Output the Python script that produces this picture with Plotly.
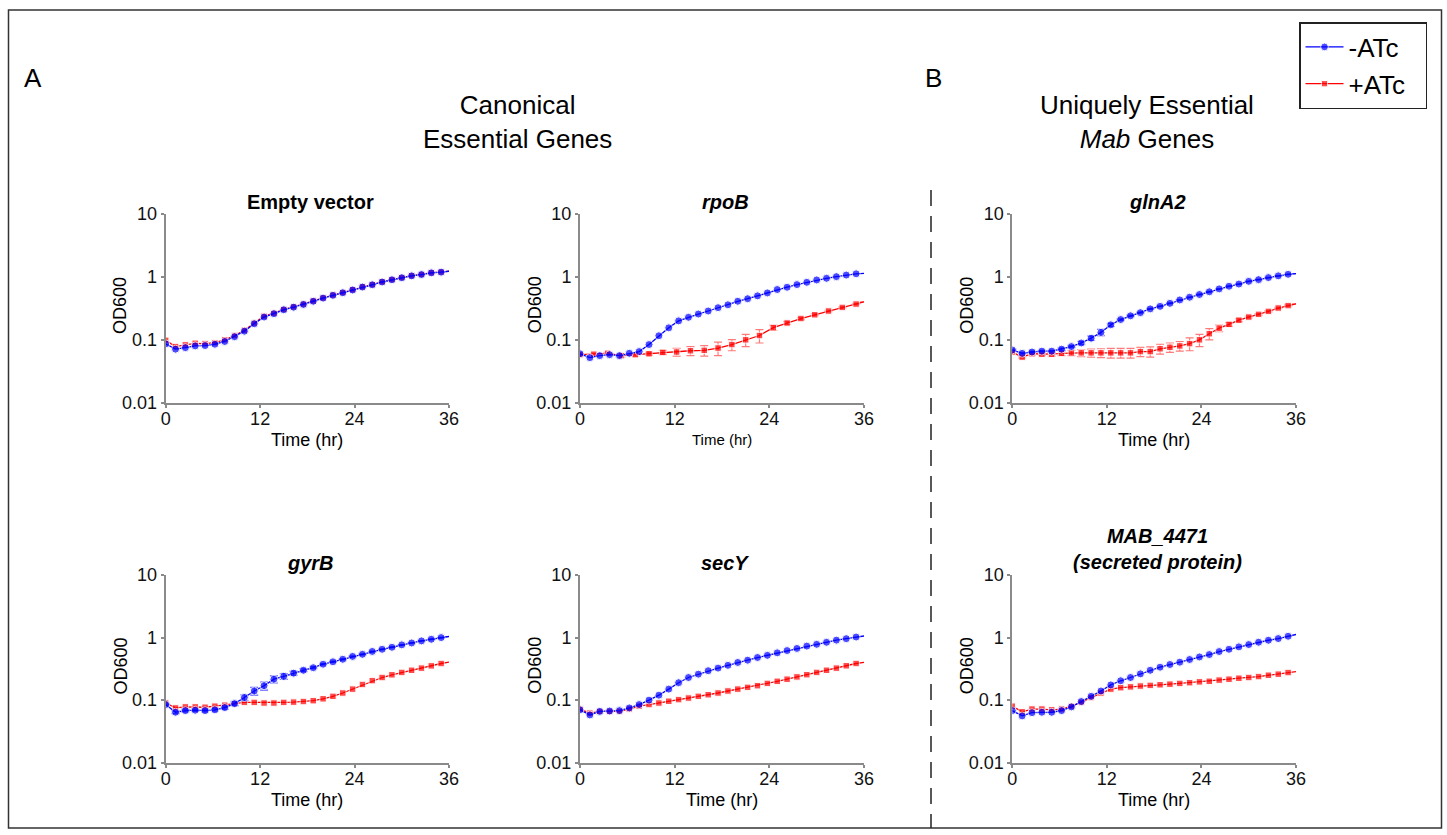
import plotly.graph_objects as go

# ---------------- data ----------------
t_std = [0, 1.25, 2.5, 3.75, 5, 6.25, 7.5, 8.75, 10, 11.25, 12.5, 13.75, 15, 16.25,
         17.5, 18.75, 20, 21.25, 22.5, 23.75, 25, 26.25, 27.5, 28.75, 30, 31.25,
         32.5, 33.75, 35, 36]
t_rpob_red = [0, 1.75, 3.5, 5.25, 7, 8.75, 10.5, 12.25, 14, 15.75, 17.5, 19.25, 21,
              22.75, 24.5, 26.25, 28, 29.75, 31.5, 33.25, 35, 36]

ev_blue = [0.086, 0.071, 0.075, 0.080, 0.081, 0.085, 0.094, 0.112, 0.137, 0.180, 0.230,
           0.260, 0.300, 0.330, 0.365, 0.410, 0.460, 0.510, 0.560, 0.620, 0.690, 0.750,
           0.830, 0.900, 0.970, 1.040, 1.090, 1.160, 1.190, 1.230]
ev_red = [0.098, 0.078, 0.083, 0.088, 0.087, 0.090, 0.100, 0.117, 0.142, 0.185, 0.238,
          0.265, 0.305, 0.335, 0.370, 0.415, 0.465, 0.515, 0.565, 0.625, 0.695, 0.755,
          0.835, 0.905, 0.975, 1.045, 1.095, 1.165, 1.195, 1.235]

rpob_blue = [0.060, 0.052, 0.056, 0.058, 0.056, 0.061, 0.065, 0.084, 0.116, 0.155, 0.200,
             0.228, 0.257, 0.287, 0.324, 0.360, 0.410, 0.450, 0.500, 0.556, 0.630, 0.685,
             0.755, 0.820, 0.895, 0.950, 1.010, 1.070, 1.120, 1.140]
rpob_red = [0.058, 0.059, 0.061, 0.056, 0.058, 0.060, 0.063, 0.064, 0.067, 0.068, 0.074,
            0.084, 0.100, 0.117, 0.156, 0.185, 0.218, 0.250, 0.287, 0.327, 0.370, 0.400]
rpob_red_err = [0.002, 0.002, 0.002, 0.003, 0.003, 0.003, 0.005, 0.009, 0.011, 0.013, 0.018,
                0.017, 0.022, 0.028, 0.015, 0.010, 0.008, 0.008, 0.008, 0.008, 0.008, 0]

glna_blue = [0.069, 0.061, 0.064, 0.066, 0.066, 0.071, 0.078, 0.089, 0.106, 0.131, 0.173,
             0.210, 0.241, 0.270, 0.310, 0.340, 0.380, 0.430, 0.475, 0.525, 0.580, 0.645,
             0.710, 0.770, 0.850, 0.905, 0.975, 1.040, 1.100, 1.130]
glna_blue_err = [0.002, 0.002, 0.002, 0.002, 0.002, 0.003, 0.003, 0.005, 0.008, 0.015, 0.010,
                 0.006, 0.005, 0.005, 0.005, 0.005, 0.006, 0.006, 0.006, 0.006, 0.008, 0.008,
                 0.008, 0.008, 0.010, 0.010, 0.010, 0.010, 0.010, 0]
glna_red = [0.064, 0.053, 0.060, 0.059, 0.059, 0.061, 0.062, 0.062, 0.062, 0.062, 0.062,
            0.062, 0.062, 0.065, 0.065, 0.072, 0.076, 0.080, 0.087, 0.100, 0.125, 0.153,
            0.176, 0.205, 0.230, 0.254, 0.283, 0.320, 0.350, 0.373]
glna_red_err = [0.002, 0.002, 0.003, 0.003, 0.004, 0.005, 0.006, 0.008, 0.009, 0.010, 0.011,
                0.011, 0.011, 0.011, 0.012, 0.013, 0.013, 0.014, 0.020, 0.022, 0.025, 0.018,
                0.012, 0.010, 0.008, 0.008, 0.008, 0.008, 0.008, 0]

gyrb_blue = [0.085, 0.064, 0.068, 0.069, 0.068, 0.070, 0.076, 0.088, 0.110, 0.140, 0.170,
             0.216, 0.240, 0.270, 0.300, 0.330, 0.375, 0.410, 0.450, 0.500, 0.540, 0.600,
             0.650, 0.700, 0.765, 0.820, 0.885, 0.940, 1.000, 1.040]
gyrb_blue_err = [0.002, 0.003, 0.003, 0.003, 0.003, 0.003, 0.004, 0.006, 0.012, 0.020, 0.025,
                 0.028, 0.025, 0.020, 0.015, 0.012, 0.010, 0.010, 0.010, 0.010, 0.010, 0.010,
                 0.010, 0.010, 0.010, 0.010, 0.010, 0.010, 0.010, 0]
gyrb_red = [0.090, 0.075, 0.078, 0.078, 0.077, 0.080, 0.083, 0.088, 0.092, 0.092, 0.090,
            0.090, 0.092, 0.093, 0.095, 0.098, 0.105, 0.115, 0.130, 0.150, 0.178, 0.205,
            0.230, 0.254, 0.277, 0.300, 0.325, 0.353, 0.385, 0.405]

secy_blue = [0.070, 0.058, 0.066, 0.067, 0.068, 0.075, 0.085, 0.100, 0.120, 0.150, 0.190,
             0.230, 0.260, 0.295, 0.325, 0.360, 0.400, 0.435, 0.480, 0.520, 0.570, 0.620,
             0.670, 0.730, 0.780, 0.840, 0.910, 0.960, 1.020, 1.060]
secy_red = [0.072, 0.062, 0.066, 0.066, 0.066, 0.072, 0.080, 0.085, 0.090, 0.096, 0.102,
            0.108, 0.115, 0.122, 0.130, 0.140, 0.150, 0.160, 0.170, 0.185, 0.200, 0.216,
            0.235, 0.255, 0.277, 0.300, 0.325, 0.354, 0.385, 0.400]

mab_blue = [0.068, 0.056, 0.063, 0.064, 0.064, 0.068, 0.078, 0.095, 0.115, 0.140, 0.175,
            0.204, 0.230, 0.263, 0.300, 0.336, 0.371, 0.404, 0.446, 0.490, 0.535, 0.598,
            0.650, 0.710, 0.773, 0.842, 0.906, 0.964, 1.050, 1.120]
mab_red = [0.080, 0.065, 0.072, 0.072, 0.070, 0.072, 0.080, 0.092, 0.110, 0.130, 0.150,
           0.158, 0.163, 0.168, 0.172, 0.176, 0.180, 0.185, 0.190, 0.196, 0.200, 0.209,
           0.216, 0.224, 0.230, 0.238, 0.250, 0.260, 0.276, 0.285]

x_ticks = [0, 12, 24, 36]
y_ticks = [0.01, 0.1, 1, 10]
y_tick_text = ["0.01", "0.1", "1", "10"]
series_names = ["-ATc", "+ATc"]

# ---------------- layout helpers ----------------
W, H = 1447, 835
FONT = "Arial, Liberation Sans, sans-serif"
BLUE, RED = "#0000ff", "#ff0000"
AXC = "#8a8a8a"
PAD = "\u00a0\u00a0"  # keeps the legend box as wide as the original


def xp(v):
    return v / W


def yp(v):
    return 1 - v / H


panels = [
    dict(title="<b>Empty vector</b>", x0=165.7, x1=449.0, top=214.0, bot=402.7,
         yb=ev_blue, eb=None, tr=t_std, yr=ev_red, er=None, tsize=18),
    dict(title="<b><i>rpoB</i></b>", x0=580.0, x1=864.0, top=214.0, bot=402.7,
         yb=rpob_blue, eb=None, tr=t_rpob_red, yr=rpob_red, er=rpob_red_err, tsize=15),
    dict(title="<b><i>glnA2</i></b>", x0=1012.3, x1=1296.0, top=214.0, bot=402.7,
         yb=glna_blue, eb=glna_blue_err, tr=t_std, yr=glna_red, er=glna_red_err, tsize=18),
    dict(title="<b><i>gyrB</i></b>", x0=165.7, x1=449.0, top=575.0, bot=762.7,
         yb=gyrb_blue, eb=gyrb_blue_err, tr=t_std, yr=gyrb_red, er=None, tsize=18),
    dict(title="<b><i>secY</i></b>", x0=580.0, x1=864.0, top=575.0, bot=762.7,
         yb=secy_blue, eb=None, tr=t_std, yr=secy_red, er=None, tsize=18),
    dict(title="<b><i>MAB_4471<br>(secreted protein)</i></b>", x0=1012.3, x1=1296.0,
         top=575.0, bot=762.7,
         yb=mab_blue, eb=None, tr=t_std, yr=mab_red, er=None, tsize=18),
]

fig = go.Figure()
annotations = []
layout_axes = {}

for i, p in enumerate(panels):
    n = i + 1
    xa = "x" if n == 1 else f"x{n}"
    ya = "y" if n == 1 else f"y{n}"
    xkey = "xaxis" if n == 1 else f"xaxis{n}"
    ykey = "yaxis" if n == 1 else f"yaxis{n}"

    red_sizes = [6.5] * (len(p["tr"]) - 1) + [0]
    blue_sizes = [8] * (len(t_std) - 1) + [0]

    red_err = None
    if p["er"] is not None:
        red_err = dict(type="data", array=p["er"], visible=True, color="#ff7a7a",
                       thickness=1.2, width=4)
    blue_err = None
    if p["eb"] is not None:
        blue_err = dict(type="data", array=p["eb"], visible=True, color="#5a5aff",
                        thickness=1.2, width=4)

    fig.add_trace(go.Scatter(
        x=p["tr"], y=p["yr"], mode="lines+markers", name=series_names[1] + PAD,
        line=dict(color=RED, width=1.3),
        marker=dict(symbol="square", size=red_sizes, color=RED),
        error_y=red_err, xaxis=xa, yaxis=ya,
        legendgroup="red", showlegend=(n == 1), legendrank=2))
    fig.add_trace(go.Scatter(
        x=t_std, y=p["yb"], mode="lines+markers", name=series_names[0] + PAD,
        line=dict(color=BLUE, width=1.3),
        marker=dict(symbol="circle", size=blue_sizes, color=BLUE),
        error_y=blue_err, xaxis=xa, yaxis=ya,
        legendgroup="blue", showlegend=(n == 1), legendrank=1))

    common = dict(showline=True, linecolor=AXC, linewidth=2, ticks="outside",
                  ticklen=3, tickwidth=1.5, tickcolor=AXC, showgrid=False,
                  zeroline=False, automargin=False,
                  tickfont=dict(family=FONT, size=18, color="#111"))
    layout_axes[xkey] = dict(domain=[xp(p["x0"]), xp(p["x1"])], anchor=ya,
                             range=[0, 36], tickvals=x_ticks, ticklabelstandoff=-4,
                             **common)
    layout_axes[ykey] = dict(domain=[yp(p["bot"]), yp(p["top"])], anchor=xa,
                             type="log", range=[-2, 1], tickvals=y_ticks,
                             ticktext=y_tick_text, **common)

    cx = (p["x0"] + p["x1"]) / 2
    title_y = p["top"] - 12 if "<br>" not in p["title"] else p["top"] - 26
    annotations.append(dict(text=p["title"], x=xp(cx + 3), y=yp(title_y),
                            xref="paper", yref="paper", showarrow=False,
                            xanchor="center", yanchor="middle",
                            font=dict(family=FONT, size=20, color="#000")))
    annotations.append(dict(text="Time (hr)", x=xp(cx), y=yp(p["bot"] + 37),
                            xref="paper", yref="paper", showarrow=False,
                            xanchor="center", yanchor="middle",
                            font=dict(family=FONT, size=p["tsize"], color="#000")))
    annotations.append(dict(text="OD600", x=xp(p["x0"] - 45), y=yp((p["top"] + p["bot"]) / 2 - 3),
                            xref="paper", yref="paper", showarrow=False, textangle=-90,
                            xanchor="center", yanchor="middle",
                            font=dict(family=FONT, size=18, color="#000")))

# headers and panel letters
annotations += [
    dict(text="A", x=xp(33), y=yp(78), xref="paper", yref="paper", showarrow=False,
         xanchor="center", yanchor="middle", font=dict(family=FONT, size=26, color="#000")),
    dict(text="B", x=xp(933), y=yp(78), xref="paper", yref="paper", showarrow=False,
         xanchor="center", yanchor="middle", font=dict(family=FONT, size=26, color="#000")),
    dict(text="Canonical<br>Essential Genes", x=xp(517), y=yp(122), xref="paper",
         yref="paper", showarrow=False, xanchor="center", yanchor="middle",
         font=dict(family=FONT, size=26, color="#000")),
    dict(text="Uniquely Essential<br><i>Mab</i> Genes", x=xp(1147), y=yp(122), xref="paper",
         yref="paper", showarrow=False, xanchor="center", yanchor="middle",
         font=dict(family=FONT, size=26, color="#000")),
]

shapes = [
    dict(type="rect", xref="paper", yref="paper", x0=xp(8.5), x1=xp(1441.5),
         y0=yp(828), y1=yp(10), line=dict(color="#333", width=1.5)),
    dict(type="line", xref="paper", yref="paper", x0=xp(931), x1=xp(931),
         y0=yp(190), y1=yp(828), line=dict(color="#222", width=1.5, dash="16px,10px")),
]

fig.update_layout(
    autosize=True, margin=dict(l=0, r=0, t=0, b=0, pad=0),
    paper_bgcolor="white", plot_bgcolor="white",
    font=dict(family=FONT, color="#000"),
    annotations=annotations, shapes=shapes,
    legend=dict(x=xp(1299), y=yp(22), xanchor="left", yanchor="top",
                bordercolor="#222", borderwidth=1.5, bgcolor="white",
                font=dict(family=FONT, size=26, color="#000"),
                itemwidth=38, tracegroupgap=0),
    **layout_axes,
)

post = ("document.documentElement.style.margin='0';"
        "document.documentElement.style.overflow='hidden';"
        "document.body.style.margin='0';"
        "document.body.style.overflow='hidden';"
        "var gd=document.getElementById('{plot_id}');"
        "gd.style.width='100vw';gd.style.height='100vh';"
        "Plotly.Plots.resize(gd);")

fig.write_html("out.html", default_width="100vw", default_height="100vh",
               config={"displayModeBar": False, "responsive": True},
               post_script=post)
